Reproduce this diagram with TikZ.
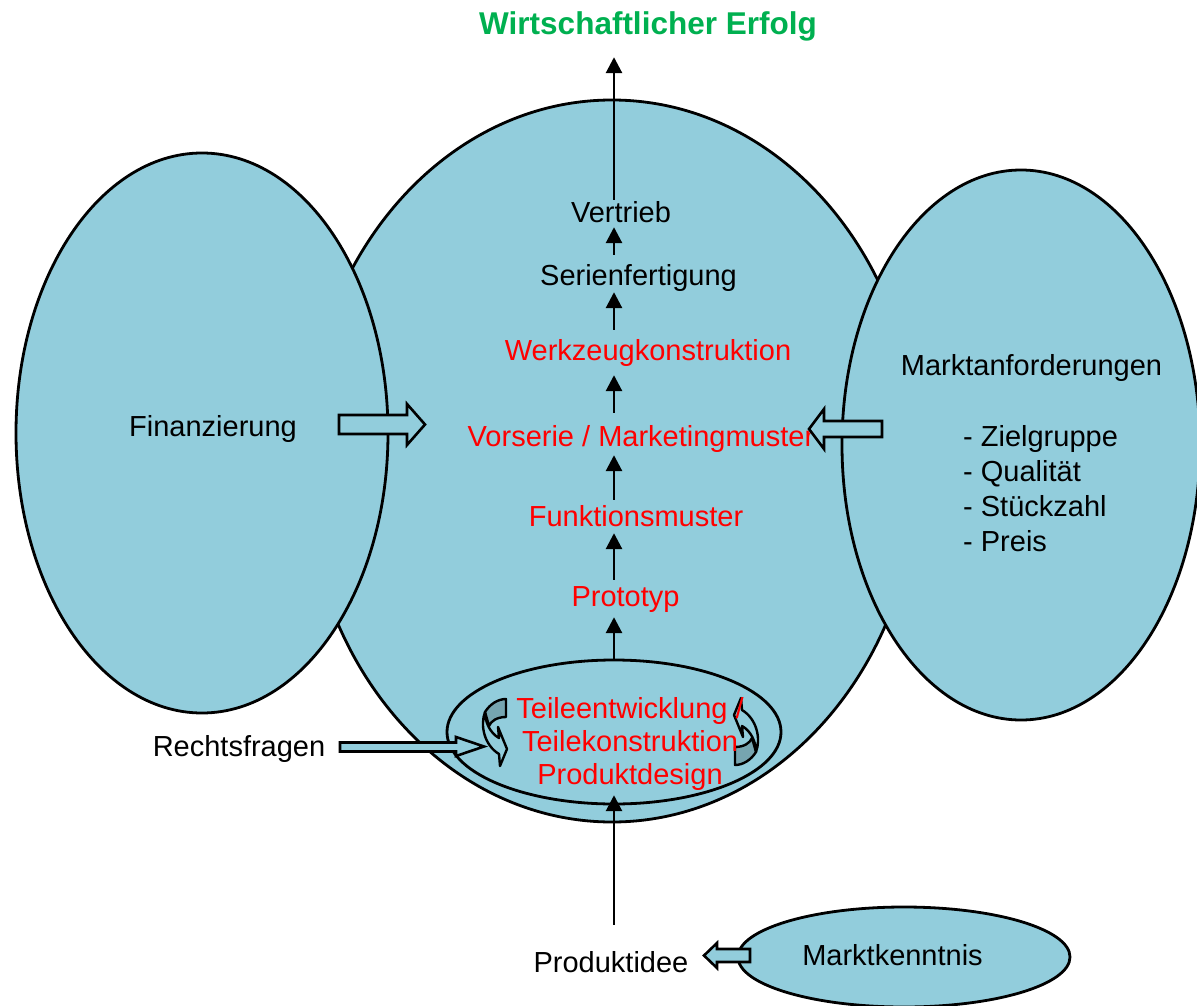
\documentclass[tikz,border=0pt]{standalone}
\usepackage{fontspec}
\setmainfont{Liberation Sans}
\usetikzlibrary{arrows.meta,shapes.geometric,calc}
\definecolor{lb}{RGB}{146,205,220}
\definecolor{darkband}{RGB}{118,165,176}
\definecolor{tred}{RGB}{255,0,0}
\definecolor{tgreen}{RGB}{0,176,80}
\tikzset{
  blob/.style={ellipse,draw=black,line width=2.8pt,fill=lb,inner sep=0pt,outer sep=0pt},
  blockarrow/.style={draw=black,line width=2.6pt,fill=lb,line join=miter},
  flow/.style={line width=2.8pt,-{Triangle[length=16pt,width=16pt]}},
  lbl/.style={font=\fontsize{29}{33}\selectfont,inner sep=0pt,text height=21pt,text depth=6pt,anchor=base},
  rlbl/.style={lbl,text=tred},
  curvarr/.pic={
    \filldraw[fill=darkband,draw=black,line width=2.4pt,line join=round]
      (10.5,-34) -- (10.5,-16) .. controls (1.5,-16) and (-4.5,-12) .. (-6.5,-7)
      -- (-10.5,-21) .. controls (-5.5,-29) and (2.5,-34) .. (10.5,-34) -- cycle;
    \filldraw[fill=lb,draw=black,line width=2.4pt,line join=round]
      (-10.5,-21) .. controls (-15.5,-8) and (-11.5,12) .. (3.5,21)
      -- (4.5,33) -- (11.5,16) -- (2.5,-6) -- (3.5,5)
      .. controls (-5.5,0) and (-10.5,-11) .. (-10.5,-21) -- cycle;
  }
}
\begin{document}
\begin{tikzpicture}[x=1pt,y=-1pt]
\useasboundingbox (0,0) rectangle (1197,1006);
% ellipses
\node[blob,minimum width=614pt,minimum height=722pt] (central) at (612,461) {};
\node[blob,minimum width=372pt,minimum height=560pt] (fin) at (202,433) {};
\node[blob,minimum width=358pt,minimum height=550pt] (markt) at (1021,445) {};
\node[blob,minimum width=334pt,minimum height=144pt] (teile) at (614,732) {};
\node[blob,minimum width=332pt,minimum height=100pt] (kenntnis) at (904,957) {};
% curved arrows
\pic at (495.5,733) {curvarr};
\pic[rotate=180] at (745.5,731) {curvarr};
% texts
\node[lbl,font=\fontsize{31.5}{36}\selectfont\bfseries,text=tgreen,text height=23pt,text depth=7pt] (title) at (648,35) {Wirtschaftlicher Erfolg};
\node[lbl] (ver) at (621,222) {Vertrieb};
\node[lbl] (ser) at (638.5,285) {Serienfertigung};
\node[rlbl] (werk) at (648,360) {Werkzeugkonstruktion};
\node[rlbl] (vor) at (641,446) {Vorserie / Marketingmuster};
\node[rlbl] (funk) at (636,526) {Funktionsmuster};
\node[rlbl] (proto) at (625.5,606) {Prototyp};
\node[font=\fontsize{29}{33}\selectfont,text=tred,align=center,inner sep=0pt] (tk) at (630,743.5) {Teileentwicklung /\\Teilekonstruktion\\Produktdesign};
\node[lbl] (fintext) at (213,436) {Finanzierung};
\node[lbl] (markttext) at (1031.5,375) {Marktanforderungen};
\node[font=\fontsize{29}{35}\selectfont,align=left,inner sep=0pt,anchor=north west] (list) at (963,425) {- Zielgruppe\\- Qualität\\- Stückzahl\\- Preis};
\node[lbl] (recht) at (239,756) {Rechtsfragen};
\node[lbl] (idee) at (611,972) {Produktidee};
\node[lbl] (kenntext) at (892.5,965) {Marktkenntnis};
% block arrows
\draw[blockarrow] (339,415) -- (407,415) -- (407,404) -- (425,424.5) -- (407,445) -- (407,434) -- (339,434) -- cycle;
\draw[blockarrow] (882,421) -- (824,421) -- (824,409) -- (809,429) -- (824,449) -- (824,437) -- (882,437) -- cycle;
\draw[blockarrow] (340,742.5) -- (456,742.5) -- (456,737) -- (484,746.5) -- (456,756) -- (456,751.5) -- (340,751.5) -- cycle;
\draw[blockarrow] (750,949) -- (717,949) -- (717,943) -- (704,955.5) -- (717,968) -- (717,962) -- (750,962) -- cycle;
% flow arrows
\draw[flow] ($(ser.north -| teile.north)+(0,-9)$) -- ($(ver.south -| teile.north)+(0,-1)$);
\draw[flow] ($(werk.north -| teile.north)+(0,-9)$) -- ($(ser.south -| teile.north)+(0,1)$);
\draw[flow] ($(vor.north -| teile.north)+(0,-12)$) -- ($(werk.south -| teile.north)+(0,9)$);
\draw[flow] ($(funk.north -| teile.north)+(0,-5)$) -- ($(vor.south -| teile.north)+(0,3)$);
\draw[flow] ($(proto.north -| teile.north)+(0,-5)$) -- ($(funk.south -| teile.north)+(0,1)$);
\draw[flow] (teile.north) -- ($(proto.south -| teile.north)+(0,5)$);
\draw[flow] ($(idee.north -| teile.north)+(0,-26)$) -- ($(tk.south -| teile.north)+(0,5)$);
\draw[flow] ($(ver.north -| teile.north)+(0,-1)$) -- ($(title.south -| teile.north)+(0,15)$);
\end{tikzpicture}
\end{document}
